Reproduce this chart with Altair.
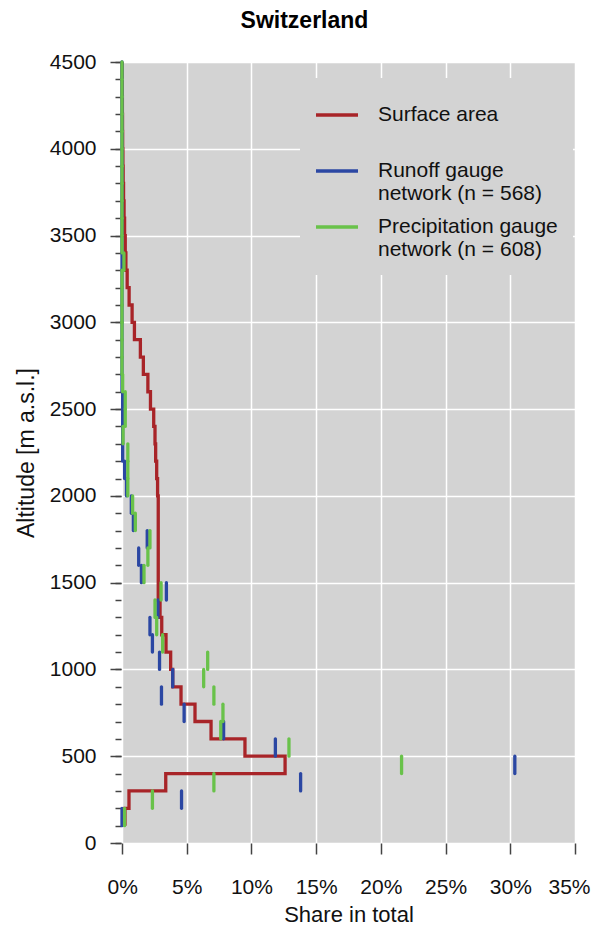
import altair as alt
import pandas as pd

# Altitude bands (lower bound, m a.s.l.), each 100 m wide
band_bottom = list(range(100, 4500, 100))

# Share in total (%) per band
surface_area = [0.23, 0.54, 3.38, 12.6, 9.5, 6.88, 5.64, 4.56, 3.92, 3.76,
                3.4, 3.07, 2.94, 2.8, 2.8, 2.8, 2.8, 2.8, 2.8, 2.75,
                2.68, 2.6, 2.55, 2.45, 2.2, 2.0, 1.65, 1.42, 0.96, 0.78,
                0.55, 0.4, 0.3, 0.25, 0.2, 0.16, 0.12, 0.09, 0.07, 0.05,
                0.04, 0.03, 0.02, 0.01]
runoff_gauges = [0.0, 4.6, 13.8, 30.35, 11.85, 7.85, 4.8, 3.05, 3.92, 2.9,
                 2.35, 2.16, 2.78, 3.43, 1.5, 1.29, 1.95, 0.88, 0.72, 0.35,
                 0.2, 0.05, 0.05, 0.05, 0.05, 0.0, 0.0, 0.0, 0.0, 0.0,
                 0.0, 0.0, 0.0, 0.0, 0.0, 0.0, 0.0, 0.0, 0.0, 0.0,
                 0.0, 0.0, 0.0, 0.0]
precip_gauges = [0.2, 2.35, 7.1, 21.6, 12.9, 7.63, 7.8, 7.1, 6.31, 6.62,
                 3.14, 2.68, 2.55, 3.02, 1.7, 2.0, 2.16, 1.03, 0.82, 0.45,
                 0.45, 0.45, 0.08, 0.25, 0.25, 0.05, 0.0, 0.0, 0.0, 0.0,
                 0.0, 0.0, 0.15, 0.0, 0.0, 0.0, 0.0, 0.0, 0.0, 0.0,
                 0.0, 0.0, 0.0, 0.0]

series_names = ["Surface area",
                "Runoff gauge|network (n = 568)",
                "Precipitation gauge|network (n = 608)"]
series_colors = ["#a82428", "#2b47a3", "#69c24a"]

x_ticks = [0, 5, 10, 15, 20, 25, 30, 35]
y_major = list(range(0, 4501, 500))
y_minor = list(range(0, 4501, 100))

FONT = "Liberation Sans"

# red step line: vertical segment per band, joined at band limits
red_rows = []
k = 0
for b, v in zip(band_bottom, surface_area):
    red_rows.append({"value": v, "alt": b, "order": k, "series": series_names[0]}); k += 1
    red_rows.append({"value": v, "alt": b + 100, "order": k, "series": series_names[0]}); k += 1
red_df = pd.DataFrame(red_rows)

rule_rows = []
for name, vals in ((series_names[1], runoff_gauges), (series_names[2], precip_gauges)):
    for b, v in zip(band_bottom, vals):
        rule_rows.append({"value": v, "alt": b, "alt2": b + 100, "series": name})
rule_df = pd.DataFrame(rule_rows)

color = alt.Color(
    "series:N",
    scale=alt.Scale(domain=series_names, range=series_colors),
    legend=alt.Legend(
        orient="none", legendX=178, legendY=16, padding=14,
        fillColor="#d3d3d3", strokeColor="#d3d3d3",
        symbolType="stroke", symbolSize=1764, symbolStrokeWidth=3.5,
        labelFontSize=21, labelFont=FONT, labelColor="#111",
        labelOffset=18, rowPadding=0, labelLimit=400,
        labelExpr="indexof(datum.label, '|') >= 0 ? split(datum.label, '|') : [datum.label, ' ']",
        title=None,
    ),
)

x_axis = alt.Axis(
    values=x_ticks, labelExpr="datum.value + '%'", labelFlush=True,
    labelFlushOffset=15, labelOverlap=False, tickSize=11, tickWidth=1.5,
    tickColor="#444", labelPadding=22, labelFontSize=21, labelFont=FONT,
    labelColor="#111", title="Share in total", titleFontSize=22, titleFont=FONT,
    titleFontWeight="normal", titleColor="#111", titlePadding=7,
    domain=False, grid=True, gridColor="white", gridWidth=1.5,
)
x_enc = alt.X("value:Q", scale=alt.Scale(domain=[0, 35], nice=False, zero=False),
              axis=x_axis)

y_scale = alt.Scale(domain=[0, 4500], nice=False, zero=False)

y_major_axis = alt.Axis(
    orient="left", values=y_major, format="d", tickSize=11, tickWidth=1.5,
    tickColor="#444", offset=1, labelPadding=14, labelFontSize=21, labelFont=FONT,
    labelColor="#111", title="Altitude [m a.s.l.]", titleFontSize=23, titleFont=FONT,
    titleFontWeight="normal", titleColor="#111", titlePadding=11,
    domain=False, grid=True, gridColor="white", gridWidth=1.5, labelOverlap=False,
)
y_minor_axis = alt.Axis(
    orient="left", values=y_minor, tickSize=6, tickWidth=1.5, tickColor="#444",
    offset=1, labels=False, title=None, domain=False, grid=False,
)

red = alt.Chart(red_df).mark_line(strokeWidth=3.3, strokeJoin="miter").encode(
    x=x_enc,
    y=alt.Y("alt:Q", scale=y_scale, axis=y_major_axis),
    order="order:Q",
    color=color,
)

rules = alt.Chart(rule_df).mark_rule(strokeWidth=3.3, strokeCap="round").encode(
    x=x_enc,
    y=alt.Y("alt:Q", scale=y_scale, axis=y_minor_axis),
    y2="alt2:Q",
    color=color,
)

chart = alt.layer(red, rules).resolve_axis(y="independent").properties(
    width=453, height=781,
    padding={"left": 114, "top": 54, "right": 16, "bottom": 82},
    autosize=alt.AutoSizeParams(type="none"),
    title=alt.TitleParams("Switzerland", fontSize=23, fontWeight="bold", font=FONT,
                          anchor="middle", dx=-44, offset=18, color="black"),
).configure_view(fill="#d3d3d3", stroke=None)

chart.save("out.html", embed_options={"renderer": "svg", "actions": False})
